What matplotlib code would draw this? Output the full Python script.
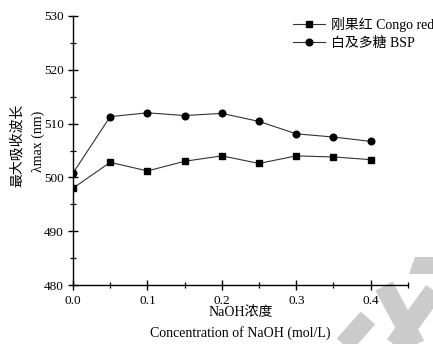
import matplotlib
matplotlib.use("Agg")
import matplotlib.pyplot as plt
from matplotlib.lines import Line2D
from matplotlib.patches import Polygon

# data
naoh = [0.0, 0.05, 0.1, 0.15, 0.2, 0.25, 0.3, 0.35, 0.4]
congo_red = [498.0, 502.8, 501.2, 503.0, 504.0, 502.6, 504.0, 503.8, 503.3]
bsp = [500.8, 511.3, 512.0, 511.5, 511.9, 510.4, 508.1, 507.5, 506.7]

labels = ["刚果红 Congo red", "白及多糖 BSP"]
xticks = [0.0, 0.1, 0.2, 0.3, 0.4]
yticks = [480, 490, 500, 510, 520, 530]

fonts = ["Liberation Serif", "Noto Sans CJK SC"]
plt.rcParams["font.family"] = fonts

W, H = 433, 344
fig = plt.figure(figsize=(4.33, 3.44), dpi=100)
ax = fig.add_axes([0.1686, 0.1715, 0.7734, 0.782])

# grey watermark strokes in the lower right corner (pixel coords -> figure coords)
wm = "#cbcbcb"
def stroke(x0, y0, x1, y1, w):
    fig.add_artist(Line2D([x0 / W, x1 / W], [1 - y0 / H, 1 - y1 / H],
                          transform=fig.transFigure, color=wm, lw=w,
                          solid_capstyle="butt", zorder=0))

stroke(343, 346, 368, 318, 14)
stroke(384, 286, 416, 346, 14)
stroke(436, 288, 394, 346, 14)
cap = [(415, 257), (435, 257), (435, 274), (409, 274)]
fig.add_artist(Polygon([(x / W, 1 - y / H) for x, y in cap], closed=True,
                       transform=fig.transFigure, color=wm, lw=0, zorder=0))

ax.patch.set_alpha(0)
ax.plot(naoh, congo_red, color="#333333", lw=0.8, marker="s", ms=4.3,
        mfc="black", mec="black", label=labels[0])
ax.plot(naoh, bsp, color="#333333", lw=0.8, marker="o", ms=4.8,
        mfc="black", mec="black", label=labels[1])

ax.set_xlim(0, 0.45)
ax.set_ylim(480, 530)
ax.set_xticks(xticks)
ax.set_xticklabels(["%.1f" % v for v in xticks])
ax.set_xticks([0.05, 0.15, 0.25, 0.35, 0.45], minor=True)
ax.set_yticks(yticks)
ax.set_yticks([485, 495, 505, 515, 525], minor=True)

for s in ["top", "right"]:
    ax.spines[s].set_visible(False)
for s in ["left", "bottom"]:
    ax.spines[s].set_linewidth(1.0)
ax.tick_params(which="major", direction="inout", length=7, width=1.0,
               labelsize=9.5, pad=3)
ax.tick_params(which="minor", direction="inout", length=3.8, width=0.9)
ax.tick_params(axis="x", which="major", pad=4)

# axis titles (two lines each)
fig.text(0.040, 0.578, "最大吸收波长", rotation=90, ha="center", va="center", fontsize=10)
fig.text(0.088, 0.59, "λmax (nm)", rotation=90, ha="center", va="center", fontsize=10)
fig.text(0.555, 0.090, "NaOH浓度", ha="center", va="center", fontsize=10)
fig.text(0.555, 0.032, "Concentration of NaOH (mol/L)", ha="center", va="center", fontsize=10)

ax.legend(loc="upper left", bbox_to_anchor=(0.655, 0.98), bbox_transform=fig.transFigure,
          frameon=False, fontsize=10, handlelength=2.3, handletextpad=0.4,
          labelspacing=0.35, borderpad=0.2)

fig.savefig("out.png", dpi=100)
